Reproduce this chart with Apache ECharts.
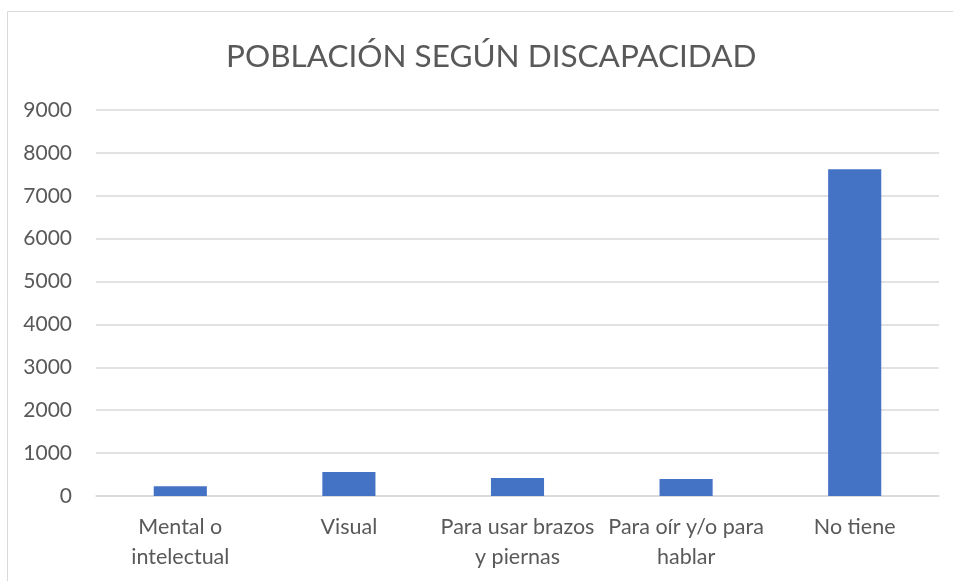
<!DOCTYPE html>
<html>
<head>
<meta charset="utf-8">
<script src="https://cdn.jsdelivr.net/npm/echarts@6/dist/echarts.min.js"></script>
<style>
  html, body { margin: 0; padding: 0; background: #ffffff; }
  #chart { width: 953px; height: 581px; }
</style>
</head>
<body>
<div id="chart"></div>
<script>
const categories = [
  'Mental o\nintelectual',
  'Visual',
  'Para usar brazos\ny piernas',
  'Para oír y/o para\nhablar',
  'No tiene'
]
const values = [230, 560, 420, 395, 7620]
const yTicks = [0, 9000, 1000]

const chart = echarts.init(document.getElementById('chart'))
const font = 'Lato, "Open Sans", sans-serif'

chart.setOption({
  animation: false,
  title: {
    text: 'POBLACIÓN SEGÚN DISCAPACIDAD',
    left: 221,
    top: 36,
    textStyle: { color: '#595959', fontSize: 31.5, fontWeight: 'normal', fontFamily: font }
  },
  graphic: [{
    type: 'rect',
    shape: { x: 7.5, y: 11.5, width: 960, height: 600 },
    style: { fill: 'none', stroke: '#d9d9d9', lineWidth: 1 }
  }],
  grid: { left: 96, right: 14, top: 110, bottom: 85 },
  xAxis: {
    type: 'category',
    data: categories,
    axisLine: { lineStyle: { color: '#d9d9d9', width: 1.5 } },
    axisTick: { show: false },
    axisLabel: { color: '#595959', fontSize: 21.5, fontFamily: font, margin: 16, lineHeight: 30, interval: 0 }
  },
  yAxis: {
    type: 'value',
    min: yTicks[0],
    max: yTicks[1],
    interval: yTicks[2],
    axisLine: { show: false },
    axisTick: { show: false },
    splitLine: { lineStyle: { color: '#d9d9d9', width: 1.5 } },
    axisLabel: { color: '#595959', fontSize: 21, fontFamily: font, margin: 24, formatter: v => String(v) }
  },
  series: [{
    type: 'bar',
    data: values,
    barWidth: '31.5%',
    itemStyle: { color: '#4472c4' }
  }]
})
</script>
</body>
</html>
